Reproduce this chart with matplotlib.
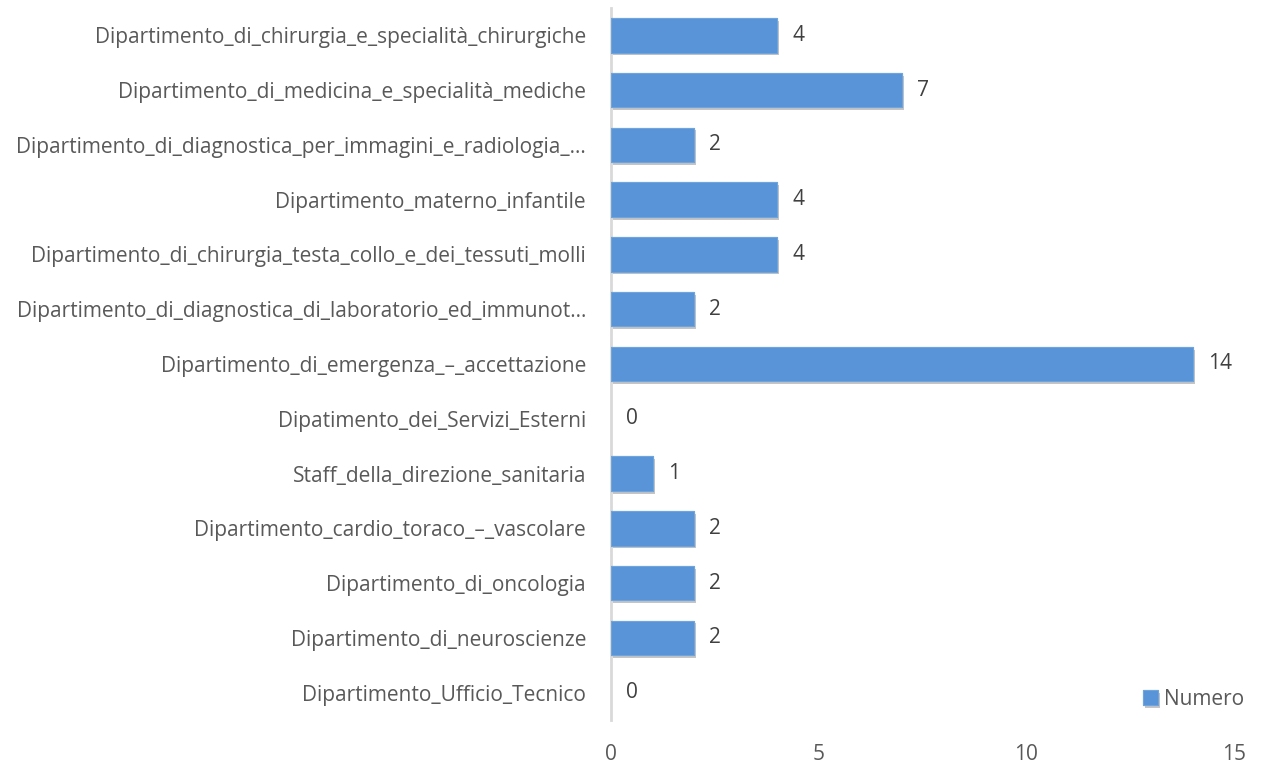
import matplotlib.pyplot as plt
import matplotlib.patheffects as pe

categories = [
    'Dipartimento_di_chirurgia_e_specialità_chirurgiche',
    'Dipartimento_di_medicina_e_specialità_mediche',
    'Dipartimento_di_diagnostica_per_immagini_e_radiologia_…',
    'Dipartimento_materno_infantile',
    'Dipartimento_di_chirurgia_testa_collo_e_dei_tessuti_molli',
    'Dipartimento_di_diagnostica_di_laboratorio_ed_immunot…',
    'Dipartimento_di_emergenza_–_accettazione',
    'Dipatimento_dei_Servizi_Esterni',
    'Staff_della_direzione_sanitaria',
    'Dipartimento_cardio_toraco_–_vascolare',
    'Dipartimento_di_oncologia',
    'Dipartimento_di_neuroscienze',
    'Dipartimento_Ufficio_Tecnico',
]
numero = [4, 7, 2, 4, 4, 2, 14, 0, 1, 2, 2, 2, 0]
x_ticks = [0, 5, 10, 15]

plt.rcParams['font.family'] = ['Open Sans', 'DejaVu Sans']
FS = 15

fig = plt.figure(figsize=(12.63, 7.67), dpi=100)
ax = fig.add_axes([0.4838, 0.0613, 0.4933, 0.9283])

y = range(len(categories))
bars = ax.barh(y, numero, height=0.63, color='#5894d7', edgecolor='#6ea5de',
               linewidth=0.8, label='Numero', zorder=3)
for b, v in zip(bars, numero):
    if v == 0:
        b.set_visible(False)
        continue
    b.set_path_effects([pe.withSimplePatchShadow(offset=(1.5, -2), alpha=0.3,
                                                 shadow_rgbFace='#404040'),
                        pe.Normal()])

for yi, v in zip(y, numero):
    ax.text(v + 0.37, yi, str(v), va='center', ha='left', fontsize=FS,
            color='#404040')

ax.set_xlim(0, 15)
ax.set_ylim(len(categories) - 0.5, -0.5)
ax.set_xticks(x_ticks)
ax.set_yticks(list(y))
ax.set_yticklabels(categories)
ax.tick_params(axis='y', length=0, pad=18, labelsize=FS, labelcolor='#595959')
ax.tick_params(axis='x', length=0, pad=17, labelsize=FS, labelcolor='#595959')

for side in ['top', 'right', 'bottom']:
    ax.spines[side].set_visible(False)
ax.spines['left'].set_color('#d9d9d9')
ax.spines['left'].set_linewidth(2)

ax.legend(loc='lower right', bbox_to_anchor=(1.0, 0.05),
          bbox_transform=fig.transFigure, frameon=False, fontsize=FS,
          handlelength=0.7, handleheight=0.7, handletextpad=0.3,
          labelcolor='#595959')

fig.savefig('out.png', dpi=100, facecolor='white')
